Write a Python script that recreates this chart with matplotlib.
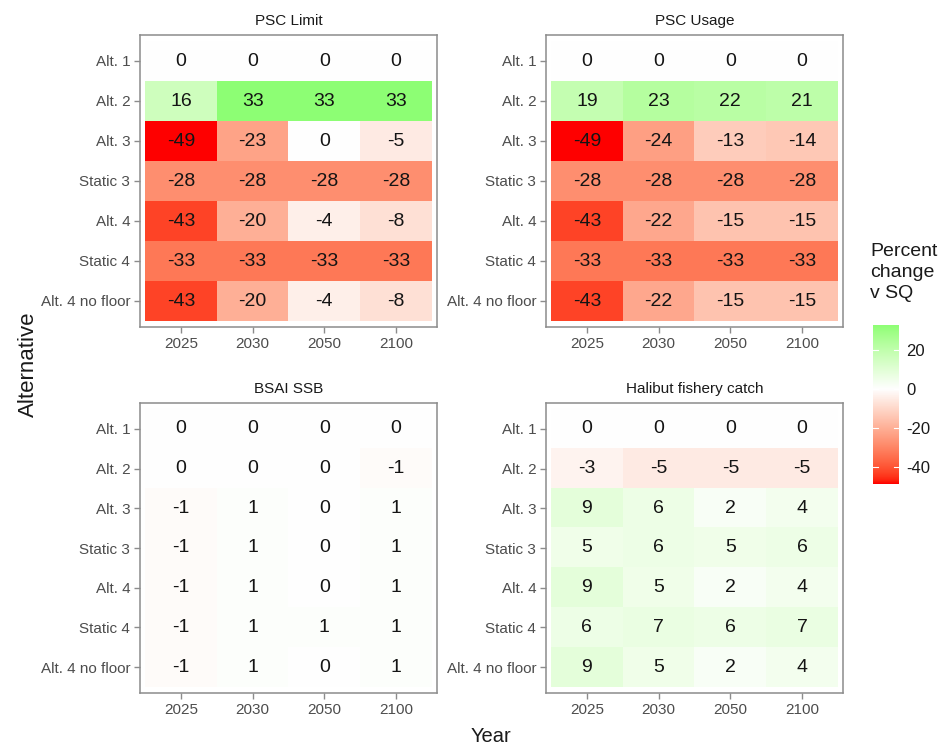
import numpy as np
import matplotlib
matplotlib.use("Agg")
import matplotlib.pyplot as plt
from matplotlib.colors import ListedColormap, Normalize

plt.rcParams['font.family'] = ['Liberation Sans', 'DejaVu Sans']

# ---- data -------------------------------------------------------------
years = ["2025", "2030", "2050", "2100"]
alternatives = ["Alt. 1", "Alt. 2", "Alt. 3", "Static 3", "Alt. 4", "Static 4", "Alt. 4 no floor"]
panel_titles = ["PSC Limit", "PSC Usage", "BSAI SSB", "Halibut fishery catch"]

psc_limit = [
    [0, 0, 0, 0],
    [16, 33, 33, 33],
    [-49, -23, 0, -5],
    [-28, -28, -28, -28],
    [-43, -20, -4, -8],
    [-33, -33, -33, -33],
    [-43, -20, -4, -8],
]
psc_usage = [
    [0, 0, 0, 0],
    [19, 23, 22, 21],
    [-49, -24, -13, -14],
    [-28, -28, -28, -28],
    [-43, -22, -15, -15],
    [-33, -33, -33, -33],
    [-43, -22, -15, -15],
]
bsai_ssb = [
    [0, 0, 0, 0],
    [0, 0, 0, -1],
    [-1, 1, 0, 1],
    [-1, 1, 0, 1],
    [-1, 1, 0, 1],
    [-1, 1, 1, 1],
    [-1, 1, 0, 1],
]
halibut_catch = [
    [0, 0, 0, 0],
    [-3, -5, -5, -5],
    [9, 6, 2, 4],
    [5, 6, 5, 6],
    [9, 5, 2, 4],
    [6, 7, 6, 7],
    [9, 5, 2, 4],
]
panel_values = [psc_limit, psc_usage, bsai_ssb, halibut_catch]

legend_breaks = [20, 0, -20, -40]


# ---- diverging red-white-green palette interpolated in CIE Lab --------
def srgb_to_lab(rgb):
    rgb = np.asarray(rgb, float)
    lin = np.where(rgb <= 0.04045, rgb / 12.92, ((rgb + 0.055) / 1.055) ** 2.4)
    m = np.array([[0.4124564, 0.3575761, 0.1804375],
                  [0.2126729, 0.7151522, 0.0721750],
                  [0.0193339, 0.1191920, 0.9503041]])
    xyz = lin @ m.T
    white = np.array([0.95047, 1.0, 1.08883])
    t = xyz / white
    f = np.where(t > (6 / 29) ** 3, np.cbrt(t), t / (3 * (6 / 29) ** 2) + 4 / 29)
    L = 116 * f[..., 1] - 16
    a = 500 * (f[..., 0] - f[..., 1])
    b = 200 * (f[..., 1] - f[..., 2])
    return np.stack([L, a, b], axis=-1)


def lab_to_srgb(lab):
    lab = np.asarray(lab, float)
    fy = (lab[..., 0] + 16) / 116
    fx = fy + lab[..., 1] / 500
    fz = fy - lab[..., 2] / 200
    f = np.stack([fx, fy, fz], axis=-1)
    t = np.where(f > 6 / 29, f ** 3, 3 * (6 / 29) ** 2 * (f - 4 / 29))
    xyz = t * np.array([0.95047, 1.0, 1.08883])
    minv = np.array([[3.2404542, -1.5371385, -0.4985314],
                     [-0.9692660, 1.8760108, 0.0415560],
                     [0.0556434, -0.2040259, 1.0572252]])
    lin = np.clip(xyz @ minv.T, 0, 1)
    rgb = np.where(lin <= 0.0031308, 12.92 * lin, 1.055 * lin ** (1 / 2.4) - 0.055)
    return np.clip(rgb, 0, 1)


low, mid, high = srgb_to_lab([1, 0, 0]), srgb_to_lab([1, 1, 1]), srgb_to_lab([0, 1, 0])
s = np.linspace(0, 1, 256)
labs = np.where((s < 0.5)[:, None],
                low + (mid - low) * (s / 0.5)[:, None],
                mid + (high - mid) * ((s - 0.5) / 0.5)[:, None])
cmap = ListedColormap(lab_to_srgb(labs))

all_vals = np.concatenate([np.ravel(v) for v in panel_values])
lim = np.max(np.abs(all_vals))
norm = Normalize(vmin=-lim, vmax=lim)

# ---- figure -----------------------------------------------------------
W, H = 951, 747
fig = plt.figure(figsize=(W / 100, H / 100), dpi=100)


def px_axes(x0, y0, x1, y1):
    return fig.add_axes([x0 / W, 1 - y1 / H, (x1 - x0) / W, (y1 - y0) / H])


frame_col = "#8c8c8c"
tick_col = "#4d4d4d"
panel_boxes = [(140, 35, 437, 327), (546, 35, 843, 327),
               (140, 403, 437, 693), (546, 403, 843, 693)]

for box, title, vals in zip(panel_boxes, panel_titles, panel_values):
    ax = px_axes(*box)
    data = np.array(vals, float)
    ax.imshow(data, cmap=cmap, norm=norm, aspect="auto",
              extent=(-0.5, len(years) - 0.5, len(alternatives) - 0.5, -0.5),
              interpolation="nearest")
    for i in range(len(alternatives)):
        for j in range(len(years)):
            ax.text(j, i, f"{int(data[i, j])}", ha="center", va="center",
                    fontsize=14, color="#141414")
    ax.set_xlim(-0.57, len(years) - 0.43)
    ax.set_ylim(len(alternatives) - 0.35, -0.65)
    ax.set_xticks(range(len(years)))
    ax.set_xticklabels(years)
    ax.set_yticks(range(len(alternatives)))
    ax.set_yticklabels(alternatives)
    ax.tick_params(length=4, width=1, color=frame_col, labelcolor=tick_col,
                   labelsize=11, pad=3)
    for sp in ax.spines.values():
        sp.set_color(frame_col)
        sp.set_linewidth(1.1)
    ax.set_title(title, fontsize=11, color="#1a1a1a", pad=7)

fig.text(491 / W, 1 - 736 / H, "Year", ha="center", va="center",
         fontsize=14.5, color="#1a1a1a")
fig.text(28 / W, 1 - 364 / H, "Alternative", ha="center", va="center",
         rotation=90, fontsize=16, color="#1a1a1a")

# ---- colour bar legend --------------------------------------------------
vmin_data, vmax_data = all_vals.min(), all_vals.max()
cax = px_axes(873, 325, 899, 484)
grad = np.linspace(vmax_data, vmin_data, 300)[:, None]
cax.imshow(grad, cmap=cmap, norm=norm, aspect="auto",
           extent=(0, 1, vmin_data, vmax_data), interpolation="bilinear")
cax.set_xlim(0, 1)
cax.set_ylim(vmin_data, vmax_data)
for b in legend_breaks:
    cax.plot([0, 0.2], [b, b], color="white", lw=0.8)
    cax.plot([0.8, 1], [b, b], color="white", lw=0.8)
cax.set_xticks([])
cax.yaxis.tick_right()
cax.set_yticks(legend_breaks)
cax.set_yticklabels([str(b) for b in legend_breaks])
cax.tick_params(axis="y", length=0, labelsize=12, labelcolor="#1a1a1a", pad=5)
for sp in cax.spines.values():
    sp.set_visible(False)
fig.text(870 / W, 1 - 243 / H, "Percent\nchange\nv SQ", ha="left", va="top",
         fontsize=14, color="#1a1a1a", linespacing=1.3)

fig.savefig("out.png", dpi=100)
